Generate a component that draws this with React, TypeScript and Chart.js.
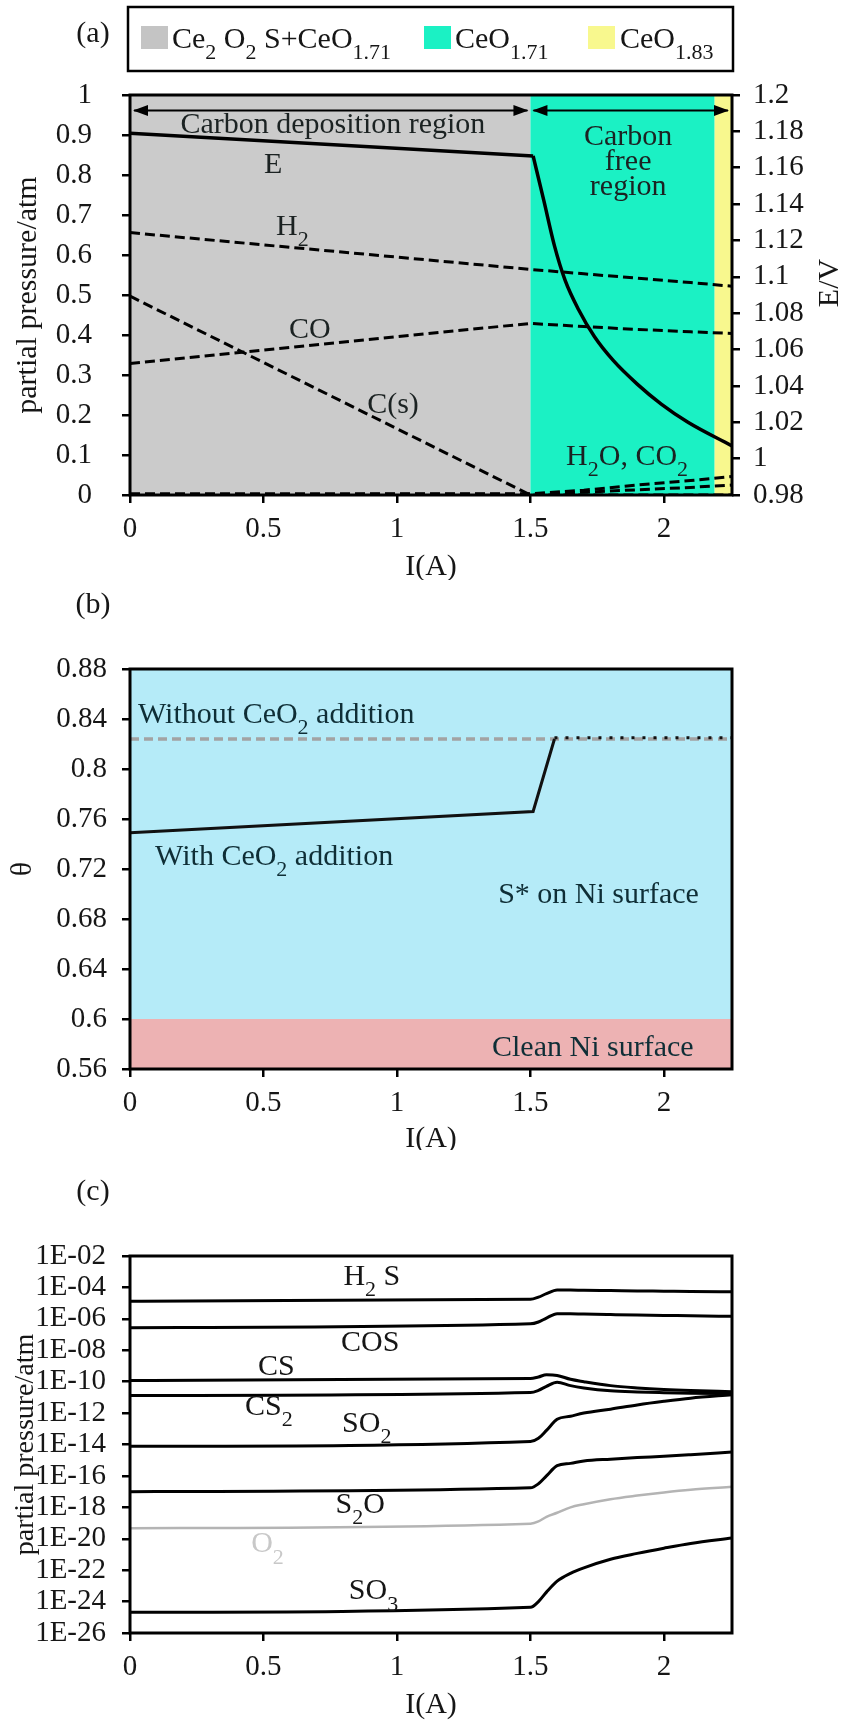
import React, { useEffect, useRef } from 'react';
import { Chart, registerables } from 'chart.js';

Chart.register(...registerables);

const FONT = '"Liberation Serif", "Times New Roman", Times, serif';
const TEXT = '#161616';
const X_MAX = 2.255;
const X_TICKS = [0, 0.5, 1, 1.5, 2];
const X_TICK_LABELS = ['0', '0.5', '1', '1.5', '2'];

// ---------- panel (a) ----------
const A_I = [0, 1.5, 1.7, 1.9, 2.1, 2.255];
const A_H2 = [0.656, 0.564, 0.553, 0.542, 0.531, 0.522];
const A_CO = [0.329, 0.429, 0.421, 0.414, 0.408, 0.404];
const A_CS = [0.497, 0.0, 0.0, 0.0, 0.0, 0.0];
const A_H2O = [0.003, 0.003, 0.012, 0.025, 0.036, 0.046];
const A_CO2 = [0.001, 0.002, 0.007, 0.013, 0.019, 0.025];
const E_FLAT_I = [0, 1.51];
const E_FLAT_V = [1.179, 1.1665];
const E_DROP_I = [1.51, 1.55, 1.59, 1.63, 1.68, 1.74, 1.81, 1.9, 1.99, 2.09, 2.255];
const E_DROP_V = [1.1665, 1.142, 1.117, 1.098, 1.082, 1.067, 1.054, 1.041, 1.03, 1.02, 1.007];
const A_P_TICKS = [0, 0.1, 0.2, 0.3, 0.4, 0.5, 0.6, 0.7, 0.8, 0.9, 1];
const A_P_TICK_LABELS = ['0', '0.1', '0.2', '0.3', '0.4', '0.5', '0.6', '0.7', '0.8', '0.9', '1'];
const A_E_TICKS = [0.98, 1, 1.02, 1.04, 1.06, 1.08, 1.1, 1.12, 1.14, 1.16, 1.18, 1.2];
const A_E_TICK_LABELS = ['0.98', '1', '1.02', '1.04', '1.06', '1.08', '1.1', '1.12', '1.14', '1.16', '1.18', '1.2'];
const PHASE_EDGES = [0, 1.5, 2.19, 2.255];
const PHASE_COLORS = ['#cbcbcb', '#1bf1c4', '#f8f88e'];
const LEGEND_COLORS = ['#c4c4c4', '#1bf1c4', '#f8f88e'];

// ---------- panel (b) ----------
const B_WITH_I = [0, 1.51, 1.59];
const B_WITH = [0.749, 0.766, 0.824];
const B_WITH_HIGH_I = [1.59, 2.255];
const B_WITH_HIGH = [0.825, 0.825];
const B_WITHOUT_I = [0, 2.255];
const B_WITHOUT = [0.824, 0.824];
const B_TICKS = [0.56, 0.6, 0.64, 0.68, 0.72, 0.76, 0.8, 0.84, 0.88];
const B_TICK_LABELS = ['0.56', '0.6', '0.64', '0.68', '0.72', '0.76', '0.8', '0.84', '0.88'];
const B_ZONE_EDGES = [0.56, 0.6, 0.88];
const B_ZONE_COLORS = ['#edb2b3', '#b5ebf8'];

// ---------- panel (c) ----------
const C_I = [0, 1.5, 1.53, 1.56, 1.6, 1.65, 1.7, 1.8, 1.9, 2.0, 2.1, 2.255];
const C_H2S = [1.32e-5, 1.74e-5, 2.4e-5, 4.0e-5, 6.9e-5, 6.8e-5, 6.6e-5, 6.3e-5, 6.0e-5, 5.75e-5, 5.5e-5, 5.25e-5];
const C_COS = [2.75e-7, 4.8e-7, 6.3e-7, 1.12e-6, 2.14e-6, 2.09e-6, 2.0e-6, 1.86e-6, 1.74e-6, 1.66e-6, 1.55e-6, 1.45e-6];
const C_CS = [1.2e-10, 1.58e-10, 2.0e-10, 2.75e-10, 2.5e-10, 1.41e-10, 1.0e-10, 5.6e-11, 4.0e-11, 3.16e-11, 2.7e-11, 2.3e-11];
const C_CS2 = [1.32e-11, 2.04e-11, 2.8e-11, 5.0e-11, 9.1e-11, 5.6e-11, 4.0e-11, 2.6e-11, 2.2e-11, 2.0e-11, 1.86e-11, 1.74e-11];
const C_SO2 = [7.6e-15, 1.55e-14, 2.5e-14, 7.9e-14, 4.0e-13, 6.3e-13, 1.0e-12, 1.78e-12, 3.3e-12, 5.6e-12, 8.9e-12, 1.48e-11];
const C_S2O = [1.0e-17, 1.74e-17, 3.16e-17, 1.0e-16, 4.5e-16, 6.3e-16, 8.9e-16, 1.17e-15, 1.48e-15, 1.78e-15, 2.24e-15, 3.3e-15];
const C_O2 = [4.7e-20, 9.1e-20, 1.26e-19, 2.5e-19, 4.5e-19, 1.0e-18, 1.58e-18, 3.3e-18, 5.6e-18, 8.9e-18, 1.32e-17, 2.04e-17];
const C_SO3 = [2.1e-25, 4.3e-25, 1.0e-24, 4.0e-24, 2.0e-23, 6.3e-23, 1.41e-22, 5.0e-22, 1.17e-21, 2.5e-21, 5.0e-21, 1.12e-20];
const C_TICKS = [1e-26, 1e-24, 1e-22, 1e-20, 1e-18, 1e-16, 1e-14, 1e-12, 1e-10, 1e-8, 1e-6, 1e-4, 1e-2];
const C_TICK_LABELS = ['1E-26', '1E-24', '1E-22', '1E-20', '1E-18', '1E-16', '1E-14', '1E-12', '1E-10', '1E-08', '1E-06', '1E-04', '1E-02'];

type Part = [string, boolean?];
interface Label { parts: Part[]; x: number; y: number; align?: 'left' | 'center'; color?: string; size?: number }

const A_LABELS: Label[] = [
  { parts: [['Carbon deposition region']], x: 0.76, y: 0.93 },
  { parts: [['Carbon']], x: 1.866, y: 0.9 },
  { parts: [['free']], x: 1.866, y: 0.8375 },
  { parts: [['region']], x: 1.866, y: 0.775 },
  { parts: [['E']], x: 0.536, y: 0.83 },
  { parts: [['H'], ['2', true]], x: 0.608, y: 0.675 },
  { parts: [['CO']], x: 0.674, y: 0.4175 },
  { parts: [['C(s)']], x: 0.985, y: 0.23 },
  { parts: [['H'], ['2', true], ['O, CO'], ['2', true]], x: 1.862, y: 0.1 },
];
const B_LABELS: Label[] = [
  { parts: [['Without CeO'], ['2', true], [' addition']], x: 0.03, y: 0.845, align: 'left' },
  { parts: [['With CeO'], ['2', true], [' addition']], x: 0.094, y: 0.7314, align: 'left' },
  { parts: [['S* on Ni surface']], x: 1.379, y: 0.701, align: 'left' },
  { parts: [['Clean Ni surface']], x: 1.356, y: 0.5787, align: 'left' },
];
const C_LABELS: Label[] = [
  { parts: [['H'], ['2', true], [' S']], x: 0.906, y: 6.3e-4 },
  { parts: [['COS']], x: 0.9, y: 4e-8 },
  { parts: [['CS']], x: 0.548, y: 1.1e-9 },
  { parts: [['CS'], ['2', true]], x: 0.52, y: 3.3e-12 },
  { parts: [['SO'], ['2', true]], x: 0.887, y: 2.75e-13 },
  { parts: [['S'], ['2', true], ['O']], x: 0.862, y: 1.9e-18 },
  { parts: [['O'], ['2', true]], x: 0.515, y: 5.8e-21, color: '#c8c8c8' },
  { parts: [['SO'], ['3', true]], x: 0.912, y: 5.8e-24 },
];

const pts = (xs: number[], ys: number[]) => xs.map((x, i) => ({ x, y: ys[i] }));

function rich(ctx: CanvasRenderingContext2D, parts: Part[], x: number, yc: number, size: number, align: 'left' | 'center', color: string) {
  const sub = Math.round(size * 0.72);
  const base = yc + size * 0.33;
  const dy = size * 0.38;
  ctx.save();
  ctx.fillStyle = color;
  ctx.textBaseline = 'alphabetic';
  ctx.textAlign = 'left';
  const widths = parts.map(([t, s]) => {
    ctx.font = `${s ? sub : size}px ${FONT}`;
    return ctx.measureText(t).width;
  });
  const total = widths.reduce((a, b) => a + b, 0);
  let cx = align === 'center' ? x - total / 2 : x;
  parts.forEach(([t, s], i) => {
    ctx.font = `${s ? sub : size}px ${FONT}`;
    ctx.fillText(t, cx, s ? base + dy : base);
    cx += widths[i];
  });
  ctx.restore();
}

function text(ctx: CanvasRenderingContext2D, t: string, x: number, y: number, size: number, rot = 0) {
  ctx.save();
  ctx.translate(x, y);
  ctx.rotate(rot);
  ctx.font = `${size}px ${FONT}`;
  ctx.fillStyle = TEXT;
  ctx.textAlign = 'center';
  ctx.textBaseline = 'middle';
  ctx.fillText(t, 0, 0);
  ctx.restore();
}

function frame(chart: any) {
  const { ctx, chartArea: a } = chart;
  ctx.save();
  ctx.strokeStyle = '#000';
  ctx.lineWidth = 3;
  ctx.strokeRect(a.left, a.top, a.right - a.left, a.bottom - a.top);
  ctx.restore();
}

function drawLabels(chart: any, labels: Label[], yId: string, size: number, color: string) {
  const xs = chart.scales.x;
  const ys = chart.scales[yId];
  labels.forEach((l) => {
    rich(chart.ctx, l.parts, xs.getPixelForValue(l.x), ys.getPixelForValue(l.y), l.size || size, l.align || 'center', l.color || color);
  });
}

function arrowHead(ctx: CanvasRenderingContext2D, tipX: number, y: number, dir: number) {
  ctx.beginPath();
  ctx.moveTo(tipX, y);
  ctx.lineTo(tipX - dir * 15, y - 5.5);
  ctx.lineTo(tipX - dir * 15, y + 5.5);
  ctx.closePath();
  ctx.fill();
}

function xAxis(height: number): any {
  return {
    type: 'linear',
    min: 0,
    max: X_MAX,
    afterBuildTicks: (s: any) => { s.ticks = X_TICKS.map((v) => ({ value: v })); },
    afterFit: (s: any) => { s.height = height; },
    grid: { display: true, drawOnChartArea: false, drawTicks: true, tickLength: 8, lineWidth: 2.5, color: '#000' },
    border: { display: false },
    ticks: { font: { family: FONT, size: 29, lineHeight: 1 }, color: TEXT, padding: 12, maxRotation: 0, autoSkip: false, callback: (_v: any, i: number) => X_TICK_LABELS[i] },
  };
}

function yAxis(position: 'left' | 'right', width: number, min: number, max: number, tickVals: number[], tickLabels: string[], padding: number, type = 'linear'): any {
  return {
    type,
    position,
    min,
    max,
    afterBuildTicks: (s: any) => { s.ticks = tickVals.map((v) => ({ value: v })); },
    afterFit: (s: any) => { s.width = width; },
    grid: { display: true, drawOnChartArea: false, drawTicks: true, tickLength: 8, lineWidth: 2.5, color: '#000' },
    border: { display: false },
    ticks: { font: { family: FONT, size: 29, lineHeight: 1 }, color: TEXT, padding, autoSkip: false, callback: (_v: any, i: number) => tickLabels[i] },
  };
}

const common: any = {
  responsive: false,
  maintainAspectRatio: false,
  animation: false,
  events: [],
  plugins: { legend: { display: false }, tooltip: { enabled: false }, title: { display: false } },
  elements: { point: { radius: 0 }, line: { tension: 0 } },
};

const dashed = (label: string, xs: number[], ys: number[]) => ({
  label, data: pts(xs, ys), borderColor: '#000', borderWidth: 3, borderDash: [10, 5], yAxisID: 'y', fill: false,
});

function configA(): any {
  const plugin = {
    id: 'decoA',
    beforeDatasetsDraw(chart: any) {
      const { ctx, chartArea: a, scales } = chart;
      ctx.save();
      for (let i = 0; i < PHASE_COLORS.length; i++) {
        const x1 = scales.x.getPixelForValue(PHASE_EDGES[i]);
        const x2 = Math.min(a.right, scales.x.getPixelForValue(PHASE_EDGES[i + 1]));
        ctx.fillStyle = PHASE_COLORS[i];
        ctx.fillRect(x1, a.top, x2 - x1, a.bottom - a.top);
      }
      ctx.restore();
    },
    afterDatasetsDraw(chart: any) {
      const { ctx, chartArea: a, scales } = chart;
      frame(chart);
      const y = scales.y.getPixelForValue(0.961);
      const xb = scales.x.getPixelForValue(1.5);
      ctx.save();
      ctx.strokeStyle = '#000';
      ctx.fillStyle = '#000';
      ctx.lineWidth = 2;
      ctx.beginPath();
      ctx.moveTo(a.left + 4, y); ctx.lineTo(xb - 3, y);
      ctx.moveTo(xb + 3, y); ctx.lineTo(a.right - 4, y);
      ctx.stroke();
      arrowHead(ctx, a.left + 3, y, -1);
      arrowHead(ctx, xb - 2, y, 1);
      arrowHead(ctx, xb + 2, y, -1);
      arrowHead(ctx, a.right - 3, y, 1);
      ctx.restore();
      drawLabels(chart, A_LABELS, 'y', 30, '#1b2222');
      ctx.save();
      ctx.strokeStyle = '#000';
      ctx.lineWidth = 2.5;
      ctx.strokeRect(128, 7, 605, 64);
      const items: { sq: number; tx: number; parts: Part[] }[] = [
        { sq: 141, tx: 172, parts: [['Ce'], ['2', true], [' O'], ['2', true], [' S+CeO'], ['1.71', true]] },
        { sq: 424, tx: 455, parts: [['CeO'], ['1.71', true]] },
        { sq: 588, tx: 620, parts: [['CeO'], ['1.83', true]] },
      ];
      items.forEach((it, i) => {
        ctx.fillStyle = LEGEND_COLORS[i];
        ctx.fillRect(it.sq, 26, 27, 23);
        rich(ctx, it.parts, it.tx, 38, 30, 'left', TEXT);
      });
      ctx.restore();
      text(ctx, '(a)', 93, 34, 30);
      text(ctx, 'partial pressure/atm', 28, (a.top + a.bottom) / 2, 30, -Math.PI / 2);
      text(ctx, 'E/V', 830, 283, 30, -Math.PI / 2);
      text(ctx, 'I(A)', (a.left + a.right) / 2, a.bottom + 72, 30);
    },
  };
  return {
    type: 'line',
    data: {
      datasets: [
        { label: 'E', data: pts(E_FLAT_I, E_FLAT_V), borderColor: '#000', borderWidth: 3.5, yAxisID: 'y2', fill: false },
        { label: 'E (drop)', data: pts(E_DROP_I, E_DROP_V), borderColor: '#000', borderWidth: 3.5, yAxisID: 'y2', cubicInterpolationMode: 'monotone', fill: false },
        dashed('H2', A_I, A_H2),
        dashed('CO', A_I, A_CO),
        dashed('C(s)', A_I, A_CS),
        dashed('H2O', A_I, A_H2O),
        dashed('CO2', A_I, A_CO2),
      ],
    },
    options: {
      ...common,
      layout: { padding: { top: 95, left: 0, right: 0, bottom: 0 } },
      scales: {
        x: xAxis(85),
        y: yAxis('left', 130, 0, 1, A_P_TICKS, A_P_TICK_LABELS, 30),
        y2: yAxis('right', 113, 0.98, 1.2, A_E_TICKS, A_E_TICK_LABELS, 13),
      },
    },
    plugins: [plugin],
  };
}

function configB(): any {
  const plugin = {
    id: 'decoB',
    beforeDatasetsDraw(chart: any) {
      const { ctx, chartArea: a, scales } = chart;
      ctx.save();
      for (let i = 0; i < B_ZONE_COLORS.length; i++) {
        const y1 = scales.y.getPixelForValue(B_ZONE_EDGES[i]);
        const y2 = scales.y.getPixelForValue(B_ZONE_EDGES[i + 1]);
        ctx.fillStyle = B_ZONE_COLORS[i];
        ctx.fillRect(a.left, y2, a.right - a.left, y1 - y2);
      }
      ctx.restore();
    },
    afterDatasetsDraw(chart: any) {
      const { ctx, chartArea: a } = chart;
      frame(chart);
      drawLabels(chart, B_LABELS, 'y', 30, '#0f2e36');
      text(ctx, '(b)', 93, 25, 30);
      text(ctx, 'θ', 23, (a.top + a.bottom) / 2, 30, -Math.PI / 2);
      text(ctx, 'I(A)', (a.left + a.right) / 2, a.bottom + 70, 30);
    },
  };
  return {
    type: 'line',
    data: {
      datasets: [
        { label: 'With CeO2 (high)', data: pts(B_WITH_HIGH_I, B_WITH_HIGH), borderColor: '#111', borderWidth: 3, borderDash: [3, 8], fill: false },
        { label: 'With CeO2 addition', data: pts(B_WITH_I, B_WITH), borderColor: '#111', borderWidth: 3, fill: false },
        { label: 'Without CeO2 addition', data: pts(B_WITHOUT_I, B_WITHOUT), borderColor: '#a3a3a3', borderWidth: 3.5, borderDash: [9, 5], fill: false },
      ],
    },
    options: {
      ...common,
      layout: { padding: { top: 89, left: 0, right: 113, bottom: 0 } },
      scales: {
        x: xAxis(81),
        y: yAxis('left', 130, 0.56, 0.88, B_TICKS, B_TICK_LABELS, 15),
      },
    },
    plugins: [plugin],
  };
}

function configC(): any {
  const plugin = {
    id: 'decoC',
    afterDatasetsDraw(chart: any) {
      const { ctx, chartArea: a } = chart;
      frame(chart);
      drawLabels(chart, C_LABELS, 'y', 30, TEXT);
      text(ctx, '(c)', 93, 42, 30);
      text(ctx, 'partial pressure/atm', 26, (a.top + a.bottom) / 2, 28, -Math.PI / 2);
      text(ctx, 'I(A)', (a.left + a.right) / 2, a.bottom + 72, 30);
    },
  };
  const solid = (label: string, ys: number[], color = '#000', w = 3) => ({
    label, data: pts(C_I, ys), borderColor: color, borderWidth: w, cubicInterpolationMode: 'monotone', fill: false,
  });
  return {
    type: 'line',
    data: {
      datasets: [
        solid('H2S', C_H2S),
        solid('COS', C_COS),
        solid('CS', C_CS),
        solid('CS2', C_CS2),
        solid('SO2', C_SO2),
        solid('S2O', C_S2O),
        solid('O2', C_O2, '#b4b4b4', 2.5),
        solid('SO3', C_SO3),
      ],
    },
    options: {
      ...common,
      layout: { padding: { top: 106, left: 0, right: 113, bottom: 0 } },
      scales: {
        x: xAxis(91),
        y: yAxis('left', 130, 1e-26, 1e-2, C_TICKS, C_TICK_LABELS, 16, 'logarithmic'),
      },
    },
    plugins: [plugin],
  };
}

function Panel({ top, height, make }: { top: number; height: number; make: () => any }) {
  const ref = useRef<HTMLCanvasElement>(null);
  useEffect(() => {
    const chart = new Chart(ref.current as HTMLCanvasElement, make());
    return () => chart.destroy();
  }, []);
  return (
    <canvas
      ref={ref}
      width={845}
      height={height}
      style={{ position: 'absolute', left: 0, top, width: 845, height, display: 'block' }}
    />
  );
}

export default function App() {
  return (
    <div style={{ position: 'absolute', left: 0, top: 0, width: 845, height: 1724, background: '#fff', overflow: 'hidden' }}>
      <Panel top={0} height={580} make={configA} />
      <Panel top={580} height={570} make={configB} />
      <Panel top={1150} height={574} make={configC} />
    </div>
  );
}
